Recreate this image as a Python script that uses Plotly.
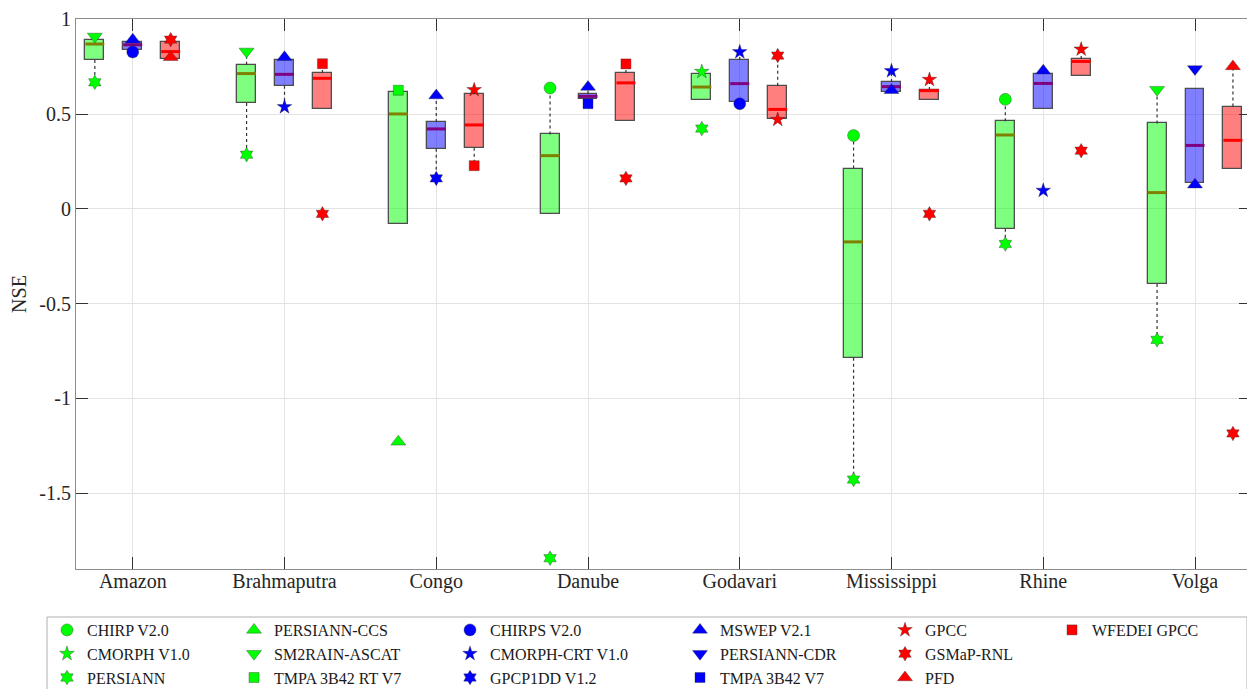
import plotly.graph_objects as go

basins = ["Amazon", "Brahmaputra", "Congo", "Danube", "Godavari", "Mississippi", "Rhine", "Volga"]

# ---- box statistics (NSE) per group: green, blue and red product groups
green_q1 = [0.786, 0.559, -0.079, -0.026, 0.573, -0.786, -0.105, -0.396]
green_med = [0.870, 0.714, 0.501, 0.281, 0.643, -0.174, 0.390, 0.086]
green_q3 = [0.891, 0.761, 0.617, 0.393, 0.714, 0.213, 0.462, 0.451]
green_lo = [0.668, 0.286, -0.079, -0.026, 0.573, -1.428, -0.185, -0.691]
green_hi = [0.910, 0.831, 0.626, 0.638, 0.724, 0.387, 0.578, 0.629]

blue_q1 = [0.840, 0.650, 0.318, 0.580, 0.564, 0.617, 0.527, 0.135]
blue_med = [0.866, 0.710, 0.422, 0.594, 0.661, 0.645, 0.662, 0.335]
blue_q3 = [0.879, 0.784, 0.459, 0.608, 0.786, 0.670, 0.712, 0.632]
blue_lo = [0.828, 0.538, 0.161, 0.555, 0.555, 0.617, 0.527, 0.128]
blue_hi = [0.893, 0.800, 0.598, 0.643, 0.828, 0.728, 0.729, 0.632]

red_q1 = [0.791, 0.527, 0.323, 0.462, 0.476, 0.573, 0.701, 0.213]
red_med = [0.830, 0.689, 0.443, 0.665, 0.525, 0.624, 0.778, 0.362]
red_q3 = [0.879, 0.717, 0.605, 0.717, 0.650, 0.628, 0.791, 0.540]
red_lo = [0.800, 0.527, 0.228, 0.462, 0.471, 0.573, 0.701, 0.213]
red_hi = [0.893, 0.766, 0.628, 0.765, 0.809, 0.682, 0.842, 0.752]

# ---- individual product values (None = not shown)
chirp_v20 = [None, None, None, 0.638, None, 0.387, 0.578, None]
cmorph_v10 = [None, None, None, None, 0.724, None, None, None]
persiann = [0.668, 0.286, None, -1.843, 0.424, -1.428, -0.185, -0.691]
persiann_ccs = [None, None, -1.229, None, None, None, None, None]
sm2rain_ascat = [0.910, 0.831, None, None, None, None, None, 0.629]
tmpa_3b42rt_v7 = [None, None, 0.626, None, None, None, None, None]
chirps_v20 = [0.828, None, None, None, 0.555, None, None, None]
cmorph_crt_v10 = [None, 0.538, None, None, 0.828, 0.728, 0.097, None]
gpcp1dd_v12 = [None, None, 0.161, None, None, None, None, None]
mswep_v21 = [0.893, 0.800, 0.598, 0.643, None, 0.626, 0.729, 0.128]
persiann_cdr = [None, None, None, None, None, None, None, 0.738]
tmpa_3b42_v7 = [None, None, None, 0.555, None, None, None, None]
gpcc = [None, None, 0.628, None, 0.471, 0.682, 0.842, None]
gsmap_rnl = [0.893, -0.026, None, 0.161, 0.809, -0.026, 0.307, -1.185]
pfd = [0.800, None, None, None, None, None, None, 0.752]
wfedei_gpcc = [None, 0.766, 0.228, 0.765, None, None, None, None]

y_ticks = [1, 0.5, 0, -0.5, -1, -1.5]
y_ticktext = ["1", "0.5", "0", "-0.5", "-1", "-1.5"]

FONT = "Liberation Serif"
BOXW = 0.125
GREEN, BLUE, RED = "#00ff00", "#0000ff", "#ff0000"

groups = [
    dict(off=-0.25, q1=green_q1, med=green_med, q3=green_q3, lo=green_lo, hi=green_hi,
         fill="rgba(0,255,0,0.5)", medc="#808000"),
    dict(off=0.0, q1=blue_q1, med=blue_med, q3=blue_q3, lo=blue_lo, hi=blue_hi,
         fill="rgba(0,0,255,0.5)", medc="#800080"),
    dict(off=0.25, q1=red_q1, med=red_med, q3=red_q3, lo=red_lo, hi=red_hi,
         fill="rgba(255,0,0,0.5)", medc="#ff0000"),
]

fig = go.Figure()

for g in groups:
    xs = [i + g["off"] for i in range(len(basins))]
    # whiskers
    wx, wy = [], []
    for x, q1, q3, lo, hi in zip(xs, g["q1"], g["q3"], g["lo"], g["hi"]):
        if hi > q3:
            wx += [x, x, None]; wy += [q3, hi, None]
        if lo < q1:
            wx += [x, x, None]; wy += [q1, lo, None]
    fig.add_trace(go.Scatter(x=wx, y=wy, mode="lines", showlegend=False, hoverinfo="skip",
                             line=dict(color="#333333", width=1.2, dash="dot")))
    # boxes
    fig.add_trace(go.Bar(x=xs, base=g["q1"], y=[b - a for a, b in zip(g["q1"], g["q3"])],
                         width=BOXW, showlegend=False,
                         marker=dict(color=g["fill"], line=dict(color="#4d4d4d", width=1.3))))
    # medians
    mx, my = [], []
    for x, m in zip(xs, g["med"]):
        mx += [x - BOXW / 2, x + BOXW / 2, None]; my += [m, m, None]
    fig.add_trace(go.Scatter(x=mx, y=my, mode="lines", showlegend=False, hoverinfo="skip",
                             line=dict(color=g["medc"], width=3)))

products = [
    # (name, values, symbol, color, group offset, legend)
    ("CHIRP V2.0", chirp_v20, "circle", GREEN, -0.25, "legend"),
    ("CMORPH V1.0", cmorph_v10, "star", GREEN, -0.25, "legend"),
    ("PERSIANN", persiann, "hexagram", GREEN, -0.25, "legend"),
    ("PERSIANN-CCS", persiann_ccs, "triangle-up", GREEN, -0.25, "legend2"),
    ("SM2RAIN-ASCAT", sm2rain_ascat, "triangle-down", GREEN, -0.25, "legend2"),
    ("TMPA 3B42 RT V7", tmpa_3b42rt_v7, "square", GREEN, -0.25, "legend2"),
    ("CHIRPS V2.0", chirps_v20, "circle", BLUE, 0.0, "legend3"),
    ("CMORPH-CRT V1.0", cmorph_crt_v10, "star", BLUE, 0.0, "legend3"),
    ("GPCP1DD V1.2", gpcp1dd_v12, "hexagram", BLUE, 0.0, "legend3"),
    ("MSWEP V2.1", mswep_v21, "triangle-up", BLUE, 0.0, "legend4"),
    ("PERSIANN-CDR", persiann_cdr, "triangle-down", BLUE, 0.0, "legend4"),
    ("TMPA 3B42 V7", tmpa_3b42_v7, "square", BLUE, 0.0, "legend4"),
    ("GPCC", gpcc, "star", RED, 0.25, "legend5"),
    ("GSMaP-RNL", gsmap_rnl, "hexagram", RED, 0.25, "legend5"),
    ("PFD", pfd, "triangle-up", RED, 0.25, "legend5"),
    ("WFEDEI GPCC", wfedei_gpcc, "square", RED, 0.25, "legend6"),
]
sizes = {"circle": 12, "star": 11, "hexagram": 11, "triangle-up": 13,
         "triangle-down": 13, "square": 10}

for name, vals, sym, col, off, leg in products:
    xs = [i + off for i, v in enumerate(vals) if v is not None]
    ys = [v for v in vals if v is not None]
    fig.add_trace(go.Scatter(x=xs, y=ys, mode="markers", name=name, legend=leg,
                             marker=dict(symbol=sym, size=sizes[sym], color=col,
                                         line=dict(color="rgba(40,40,40,0.6)", width=0.6))))

# page offset of the figure (browser body margin) and plot area geometry
OFF = 8
W, H = 1255 - OFF, 689 - OFF
plot_left, plot_right, plot_top, plot_bottom = 76, 1251, 19, 569   # page pixels
L, R = plot_left - OFF, W - (plot_right - OFF)
T, B = plot_top - OFF, H - (plot_bottom - OFF)
pw, ph = W - L - R, H - T - B

def px_x(x):
    return (x - OFF - L) / pw

def px_y(y):
    return (H - B - (y - OFF)) / ph

col_marker_x = [67, 254, 470, 700, 905, 1072]
legend_top = 613
leg_common = dict(orientation="v", bgcolor="rgba(0,0,0,0)", borderwidth=0,
                  font=dict(family=FONT, size=16, color="#1a1a1a"),
                  xanchor="left", yanchor="top", tracegroupgap=0)
layout_legends = {}
for k, mx in enumerate(col_marker_x):
    key = "legend" if k == 0 else f"legend{k + 1}"
    layout_legends[key] = dict(leg_common, x=px_x(mx - 20), y=px_y(legend_top))

axis_common = dict(showgrid=True, gridcolor="#e3e3e3", zeroline=False,
                   showline=True, linecolor="#8c8c8c", linewidth=1, mirror="ticks",
                   ticks="inside", ticklen=12, tickcolor="#333333",
                   tickfont=dict(family=FONT, size=20, color="#262626"))

fig.update_layout(
    width=W, height=H,
    margin=dict(l=L, r=R, t=T, b=B, autoexpand=False),
    paper_bgcolor="white", plot_bgcolor="white",
    barmode="overlay", bargap=0,
    font=dict(family=FONT, color="#262626"),
    xaxis=dict(axis_common, range=[-0.374, 7.369], tickvals=list(range(len(basins))),
               ticktext=basins, ticklabelstandoff=-6),
    yaxis=dict(axis_common, range=[-1.9, 1.002], tickvals=y_ticks, ticktext=y_ticktext,
               title=dict(text="NSE", font=dict(family=FONT, size=20, color="#262626"),
                          standoff=10)),
    shapes=[dict(type="rect", xref="paper", yref="paper",
                 x0=px_x(47), x1=px_x(1247), y0=px_y(617), y1=px_y(700),
                 line=dict(color="#b0b0b0", width=1), fillcolor="rgba(0,0,0,0)", layer="below")],
    **layout_legends,
)

fig.write_html("out.html")
